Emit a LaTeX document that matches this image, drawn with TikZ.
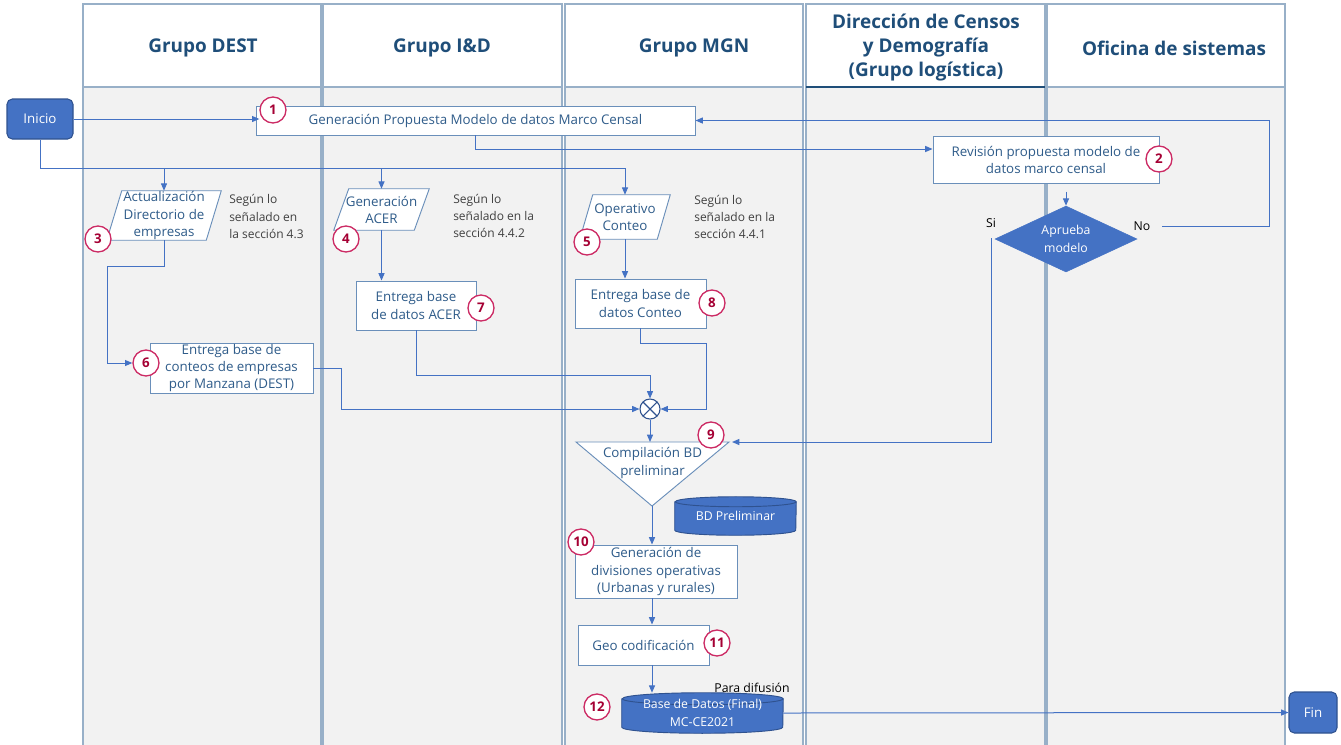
\documentclass[tikz,border=0pt]{standalone}
\usepackage{fontspec}
\setmainfont{Open Sans}
\usetikzlibrary{arrows.meta,shapes.geometric,calc}
\definecolor{conncol}{HTML}{4472C4}
\definecolor{boxcol}{HTML}{6A8FBA}
\definecolor{txtcol}{HTML}{2F5C8A}
\definecolor{headcol}{HTML}{1F4E79}
\definecolor{lanecol}{HTML}{98B0C8}
\definecolor{lanebg}{HTML}{F2F2F2}
\definecolor{numcol}{HTML}{CC2A64}
\definecolor{numtxt}{HTML}{A50034}
\definecolor{termfill}{HTML}{4472C4}
\definecolor{termline}{HTML}{2F528F}
\definecolor{notecol}{HTML}{404040}
\newcommand\ftBox{\fontsize{10}{12.8}\selectfont}
\newcommand\ftHead{\fontsize{14.2}{18}\selectfont\bfseries}
\newcommand\ftNum{\fontsize{10}{10}\selectfont\bfseries}
\newcommand\ftNote{\fontsize{9}{13}\selectfont}
\newcommand\ftSmall{\fontsize{9.2}{13}\selectfont}
\pgfdeclarelayer{bg}\pgfdeclarelayer{mid}\pgfsetlayers{bg,mid,main}
\begin{document}
\begin{tikzpicture}[x=0.75pt,y=-0.75pt,
  box/.style={draw=boxcol,line width=0.7pt,fill=white,text=txtcol,font=\ftBox,align=center,inner sep=0pt},
  plain/.style={text=txtcol,font=\ftBox,align=center,inner sep=0pt},
  num/.style={circle,draw=numcol,line width=1pt,fill=white,text=numtxt,font=\ftNum,minimum size=19.5pt,inner sep=0pt},
  conn/.style={draw=conncol,line width=0.75pt},
  arr/.style={conn,-{Triangle[length=5.5pt,width=4.5pt]}},
  term/.style={rounded corners=4pt,draw=termline,line width=0.8pt,fill=termfill,text=white,font=\ftBox,inner sep=0pt},
  lane/.style={draw=lanecol,line width=1pt},
  head/.style={text=headcol,font=\ftHead,align=center,inner sep=0pt},
  note/.style={text=notecol,font=\ftNote,align=left,inner sep=0pt,anchor=west},
  shp/.style={draw=boxcol,line width=0.7pt,fill=white},
  cyl/.style={draw=termline,line width=0.7pt,fill=termfill}]
\useasboundingbox (0,0) rectangle (1341,744);
\clip (0,0) rectangle (1341,744);
% lanes
\begin{pgfonlayer}{bg}
\foreach \a/\b in {83/321,323/562,565/803,806/1045,1047/1285}{
  \draw[lane,fill=white] (\a,4) rectangle (\b,87);
  \draw[lane,fill=lanebg] (\a,87) rectangle (\b,760);
}
\draw[draw=headcol,line width=1pt] (806,87) -- (1045,87);
\end{pgfonlayer}
\node[head] (h1) at (203,48) {Grupo DEST};
\node[head] (h2) at (442,48) {Grupo I\&D};
\node[head] (h3) at (694,48) {Grupo MGN};
\node[head] (h4) at (926,48) {Dirección de Censos\\y Demografía\\(Grupo logística)};
\node[head] (h5) at (1174,48) {Oficina de sistemas};
% terminals
\node[term,minimum width=49.5pt,minimum height=30pt] (inicio) at (40,119) {Inicio};
\node[term,minimum width=36pt,minimum height=30.75pt] (fin) at (1313,712.5) {Fin};
% boxes
\node[box,minimum width=329.25pt,minimum height=21.75pt] (b1) at (475.5,120.5) {Generación Propuesta Modelo de datos Marco Censal};
\node[box,minimum width=169.5pt,minimum height=35.6pt] (b2) at (1046,160) {Revisión propuesta modelo de\\datos marco censal};
\node[box,minimum width=122.25pt,minimum height=37.5pt] (b6) at (231.5,368) {Entrega base de\\conteos de empresas\\por Manzana (DEST)};
\node[box,minimum width=90pt,minimum height=36.75pt] (b7) at (416,305.5) {Entrega base\\de datos ACER};
\node[box,minimum width=98.25pt,minimum height=36.75pt] (b8) at (640.5,303.5) {Entrega base de\\datos Conteo};
\node[box,minimum width=121.5pt,minimum height=39.75pt] (b10) at (656,571.5) {Generación de\\divisiones operativas\\(Urbanas y rurales)};
\node[box,minimum width=98.25pt,minimum height=30pt] (b11) at (643.5,645) {Geo codificación};
% parallelograms (text nodes, shapes on mid layer)
\node[plain,minimum width=85.5pt,minimum height=36.75pt] (p3) at (164,215.5) {Actualización\\Directorio de\\empresas};
\node[plain,minimum width=71.25pt,minimum height=30.75pt] (p4) at (381.5,209.5) {Generación\\ACER};
\node[plain,minimum width=67.5pt,minimum height=33pt] (p5) at (625,217) {Operativo\\Conteo};
\begin{pgfonlayer}{mid}
\draw[shp] ($(p3.north west)+(15,0)$) -- (p3.north east) -- ($(p3.south east)+(-15,0)$) -- (p3.south west) -- cycle;
\draw[shp] ($(p4.north west)+(15,0)$) -- (p4.north east) -- ($(p4.south east)+(-15,0)$) -- (p4.south west) -- cycle;
\draw[shp] ($(p5.north west)+(13,0)$) -- (p5.north east) -- ($(p5.south east)+(-13,0)$) -- (p5.south west) -- cycle;
\end{pgfonlayer}
% diamond
\node[diamond,fill=termfill,draw=termfill,text=white,font=\ftSmall,align=center,inner sep=0pt,aspect=2.15,minimum width=106.5pt,minimum height=49.5pt] (dia) at (1066,239) {Aprueba\\modelo};
\node[text=black,font=\ftSmall,inner sep=0pt] (no) at (1142,226) {No};
\node[text=black,font=\ftSmall,inner sep=0pt] (si) at (991,223) {Si};
% notes
\node[note] (n3) at (229,216.5) {Según lo\\señalado en\\la sección 4.3};
\node[note] (n4) at (453,216) {Según lo\\señalado en la\\sección 4.4.2};
\node[note] (n5) at (694,217) {Según lo\\señalado en la\\sección 4.4.1};
% junction
\node[circle,draw=termline,line width=0.8pt,fill=white,minimum size=15pt,inner sep=0pt] (x) at (650,409) {};
\draw[termline,line width=0.8pt] ($(x.center)+(45:7.5pt)$) -- ($(x.center)+(225:7.5pt)$);
\draw[termline,line width=0.8pt] ($(x.center)+(135:7.5pt)$) -- ($(x.center)+(315:7.5pt)$);
% triangle 9
\coordinate (t9l) at (576,442);
\coordinate (t9r) at (729,442);
\coordinate (t9top) at (650,442);
\coordinate (t9apex) at (652,506);
\begin{pgfonlayer}{mid}
\draw[shp] (t9l) -- (t9r) -- (t9apex) -- cycle;
\end{pgfonlayer}
\node[plain] (t9) at (652.5,463) {Compilación BD\\preliminar};
% cylinders
\node[text=white,font=\ftSmall,inner sep=0pt,minimum width=90.75pt,minimum height=28.5pt] (bdp) at (735.5,516) {BD Preliminar};
\node[text=white,font=\ftSmall,align=center,inner sep=0pt,minimum width=120.75pt,minimum height=30pt] (db) at (702.5,713) {Base de Datos (Final)\\MC-CE2021};
\begin{pgfonlayer}{mid}
\draw[cyl] ($(bdp.north west)+(0,5)$) -- ($(bdp.south west)+(0,-5)$) arc[start angle=180,end angle=360,x radius=45.375pt,y radius=3.75pt] -- ($(bdp.north east)+(0,5)$) arc[start angle=0,end angle=180,x radius=45.375pt,y radius=3.75pt] -- cycle;
\draw[termline,line width=0.7pt] ($(bdp.north east)+(0,5)$) arc[start angle=0,end angle=-180,x radius=45.375pt,y radius=3.75pt];
\draw[cyl] ($(db.north west)+(0,6)$) -- ($(db.south west)+(0,-6)$) arc[start angle=180,end angle=360,x radius=60.375pt,y radius=4.5pt] -- ($(db.north east)+(0,6)$) arc[start angle=0,end angle=180,x radius=60.375pt,y radius=4.5pt] -- cycle;
\draw[termline,line width=0.7pt] ($(db.north east)+(0,6)$) arc[start angle=0,end angle=-180,x radius=60.375pt,y radius=4.5pt];
\end{pgfonlayer}
\node[text=black,font=\ftSmall,inner sep=0pt] (dif) at (752,688) {Para difusión};
% number circles
\node[num] (c1) at (273,110) {1};
\node[num] (c2) at (1159,159) {2};
\node[num] (c3) at (98,239) {3};
\node[num] (c4) at (346,239) {4};
\node[num] (c5) at (587,242) {5};
\node[num] (c6) at (146,363) {6};
\node[num] (c7) at (481,308) {7};
\node[num] (c8) at (712,303) {8};
\node[num] (c9) at (711,435) {9};
\node[num] (c10) at (581,542) {10};
\node[num] (c11) at (717,643) {11};
\node[num] (c12) at (597,707) {12};
% connectors
\coordinate (hline) at (0,168);
\draw[arr] (inicio.east) -- (inicio.east -| c1.west);
\draw[arr] (inicio.south) |- (p5.north |- hline) -- (p5.north);
\draw[arr] (p3.north |- hline) -- (p3.north);
\draw[arr] (p4.north |- hline) -- (p4.north);
\draw[arr] (b1.south) |- ($(b2.west)+(0,-11)$);
\draw[arr] ($(dia.north)+(0,-14)$) -- (dia.north);
\coordinate (noStart) at (1162,226);
\draw[arr] (noStart) -- (1269,226) |- (b1.east);
\coordinate (siStart) at (991,238);
\draw[arr] (siStart) |- ($(t9r)+(3,0)$);
\draw[arr] (p3.south) -- ++(0,26) -| ($(c6.west)+(-25,0)$) -- (c6.west);
\draw[arr] (b6.east) -- ++(28,0) |- (x.west);
\draw[arr] (b7.south) -- ++(0,45) -| (x.north);
\draw[arr] (b8.south) -- ++(0,15) -| ($(x.east)+(46,0)$) -- (x.east);
\draw[arr] (x.south) -- (t9top);
\draw[arr] (p4.south) -- (p4.south |- b7.north);
\draw[arr] (p5.south) -- (p5.south |- b8.north);
\draw[arr] (t9apex) -- (t9apex |- b10.north);
\draw[arr] (b10.south -| t9apex) -- (b11.north -| t9apex);
\draw[arr] (b11.south -| t9apex) -- (db.north -| t9apex);
\draw[arr] (db.east) -- (fin.west);
\end{tikzpicture}
\end{document}
